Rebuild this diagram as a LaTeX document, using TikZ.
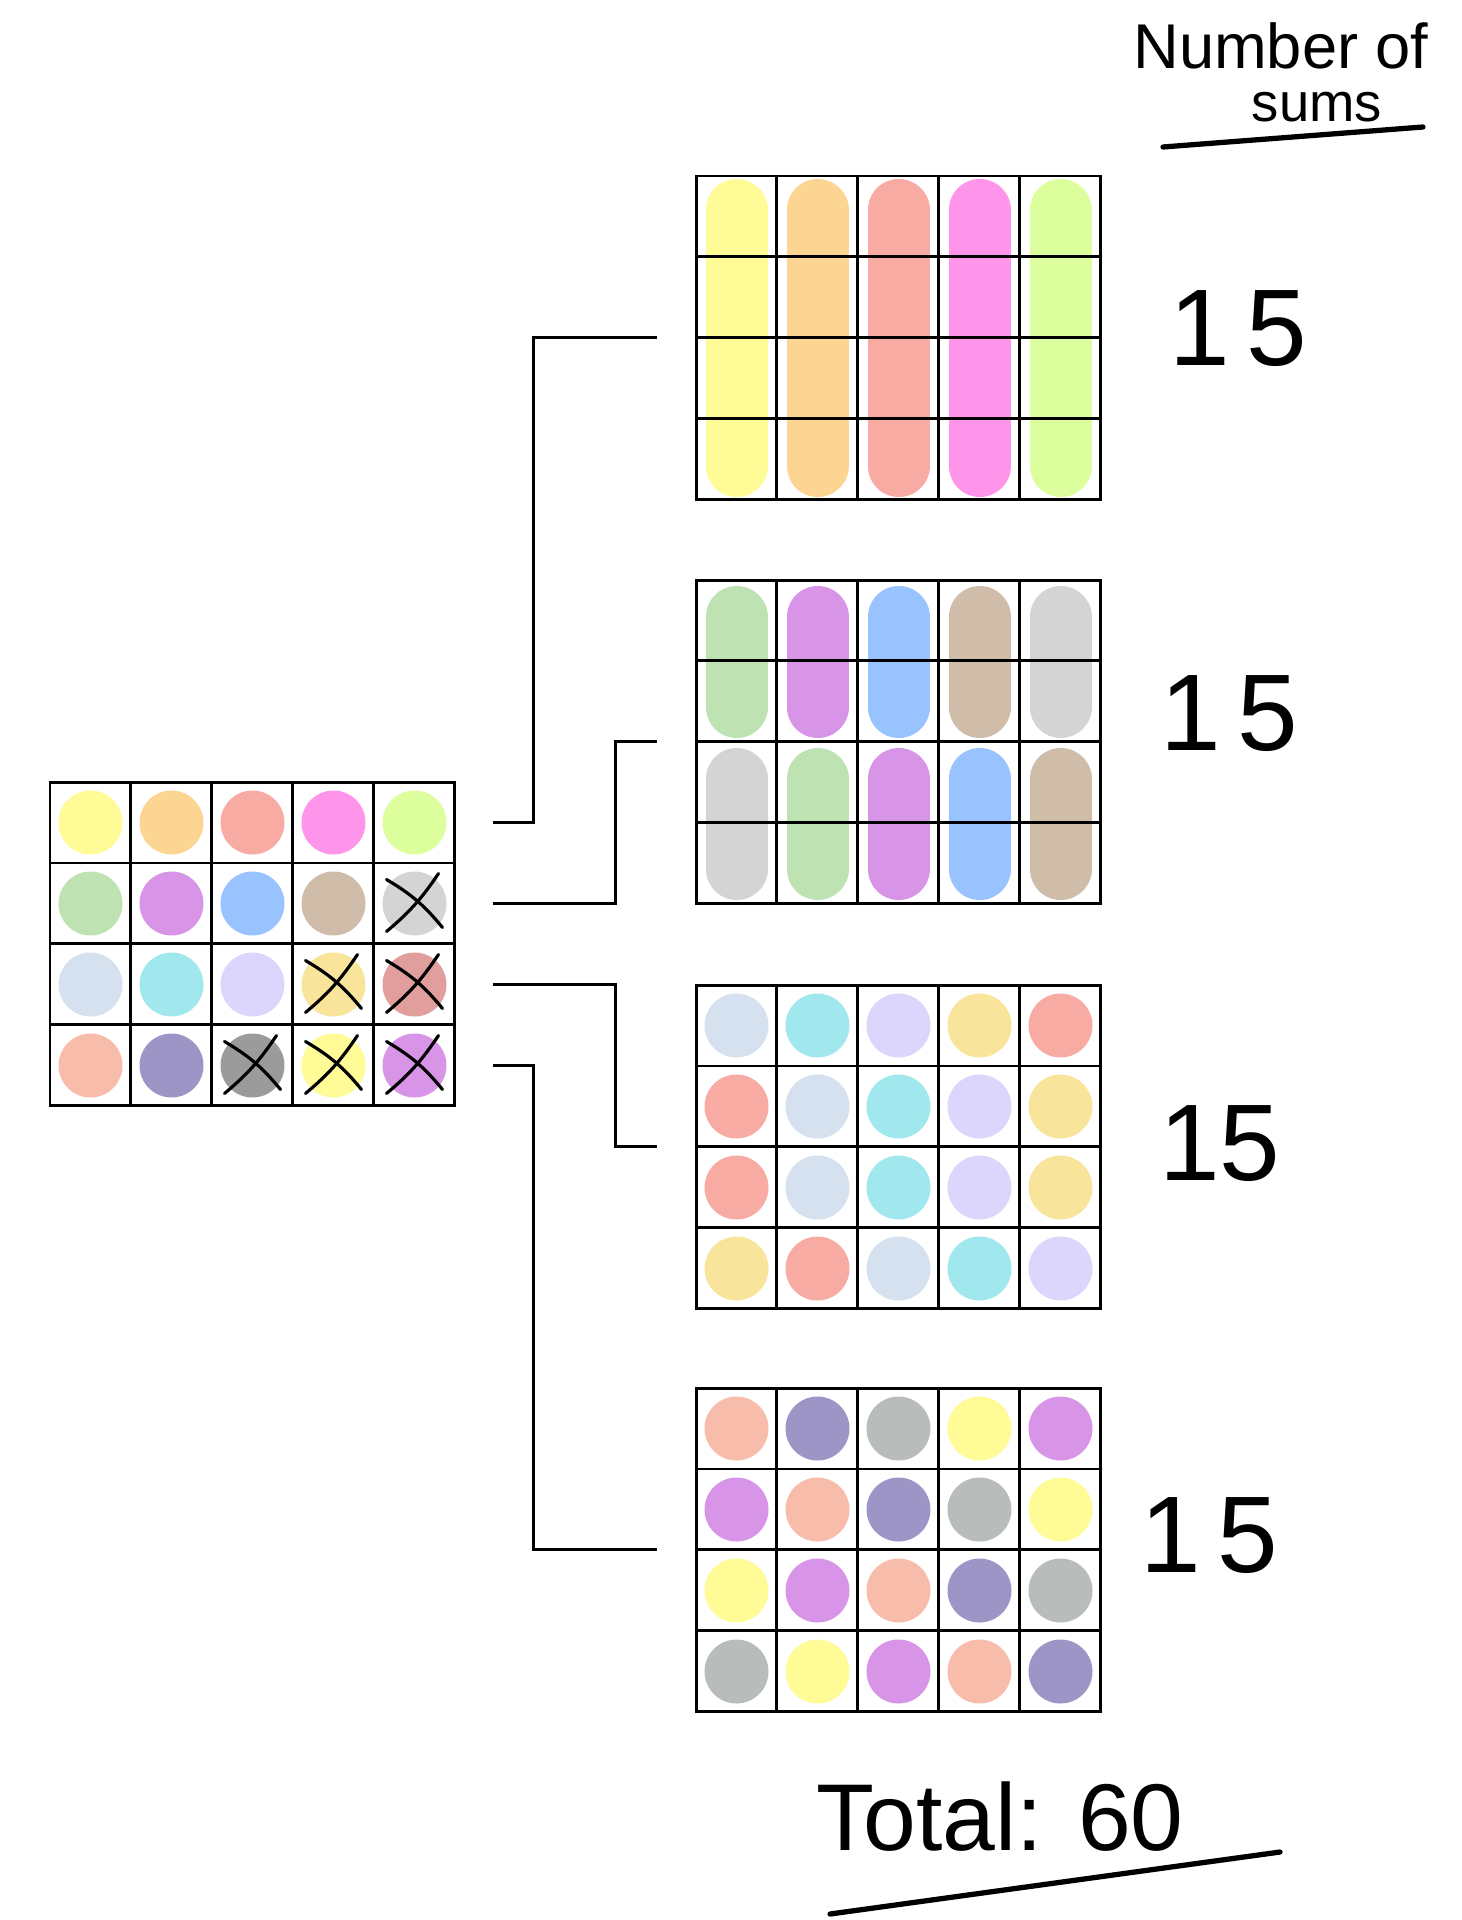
\documentclass[tikz,border=0pt]{standalone}
\usepackage{fontspec}
\setmainfont{Liberation Sans}
\usetikzlibrary{calc,positioning}

\definecolor{dotYellow}{HTML}{FFFB96}
\definecolor{dotOrange}{HTML}{FDD593}
\definecolor{dotSalmon}{HTML}{F7ABA3}
\definecolor{dotPink}{HTML}{FF95EA}
\definecolor{dotLime}{HTML}{DCFE9C}
\definecolor{dotGreen}{HTML}{BFE2B2}
\definecolor{dotPurple}{HTML}{D894E6}
\definecolor{dotBlue}{HTML}{98C3FE}
\definecolor{dotTan}{HTML}{D0BDA9}
\definecolor{dotGray}{HTML}{D4D4D4}
\definecolor{dotIce}{HTML}{D5E1EE}
\definecolor{dotCyan}{HTML}{A0E8EE}
\definecolor{dotLilac}{HTML}{DCD5FC}
\definecolor{dotSand}{HTML}{F9E49C}
\definecolor{dotRose}{HTML}{E09E9C}
\definecolor{dotPeach}{HTML}{F8BCAA}
\definecolor{dotSlate}{HTML}{9E95C7}
\definecolor{dotDark}{HTML}{9B9B9B}
\definecolor{dotStone}{HTML}{B8BCBB}

\tikzset{
  board/.style={draw, line width=1.7pt, inner sep=0pt, outer sep=0pt,
    minimum width=8.1cm, minimum height=6.48cm, anchor=north west},
  gridline/.style={line width=1.7pt},
  wire/.style={line width=1.7pt},
  pen/.style={line width=1.8pt, line cap=round},
  streak/.style={line width=1.24cm, line cap=round},
  tally/.style={font=\fontsize{62}{62}\selectfont},
}

% 5x4 board, top left corner at (#2,#3)
\newcommand{\board}[3]{%
  \node[board] (#1) at (#2,#3) {};
  \foreach \i in {1,...,4}
    \draw[gridline] ($(#1.north west)!\i/5!(#1.north east)$) -- ($(#1.south west)!\i/5!(#1.south east)$);
  \foreach \j in {1,2,3}
    \draw[gridline] ($(#1.north west)!\j/4!(#1.south west)$) -- ($(#1.north east)!\j/4!(#1.south east)$);
}
% one blob per cell, rows given as colour lists
\newcommand{\dotboard}[3]{%
  \foreach \r/\row in {#3}
    \foreach \col [count=\c] in \row
      \fill[\col] ({#1+81*(\c-0.5)},{#2+81*(\r-0.5)}) circle (0.64cm);
}
\newcommand{\crossout}[2]{%
  \draw[pen] ({#1-28},{#2-24}) to[bend left=10] ({#1+28},{#2+24});
  \draw[pen] ({#1-28},{#2+28}) to[bend right=8] ({#1+24},{#2-30});
}

\begin{document}
\begin{tikzpicture}[x=0.02cm,y=-0.02cm]
  \useasboundingbox (0,0) rectangle (1462,1920);

  % blobs
  \dotboard{50}{782}{1/{dotYellow,dotOrange,dotSalmon,dotPink,dotLime},
    2/{dotGreen,dotPurple,dotBlue,dotTan,dotGray},
    3/{dotIce,dotCyan,dotLilac,dotSand,dotRose},
    4/{dotPeach,dotSlate,dotDark,dotYellow,dotPurple}}
  \foreach \col [count=\c] in {dotYellow,dotOrange,dotSalmon,dotPink,dotLime}
    \draw[streak,\col] ({696+81*(\c-0.5)},210) -- ++(0,256);
  \foreach \col [count=\c] in {dotGreen,dotPurple,dotBlue,dotTan,dotGray}
    \draw[streak,\col] ({696+81*(\c-0.5)},617) -- ++(0,90);
  \foreach \col [count=\c] in {dotGray,dotGreen,dotPurple,dotBlue,dotTan}
    \draw[streak,\col] ({696+81*(\c-0.5)},779) -- ++(0,90);
  \dotboard{696}{985}{1/{dotIce,dotCyan,dotLilac,dotSand,dotSalmon},
    2/{dotSalmon,dotIce,dotCyan,dotLilac,dotSand},
    3/{dotSalmon,dotIce,dotCyan,dotLilac,dotSand},
    4/{dotSand,dotSalmon,dotIce,dotCyan,dotLilac}}
  \dotboard{696}{1388}{1/{dotPeach,dotSlate,dotStone,dotYellow,dotPurple},
    2/{dotPurple,dotPeach,dotSlate,dotStone,dotYellow},
    3/{dotYellow,dotPurple,dotPeach,dotSlate,dotStone},
    4/{dotStone,dotYellow,dotPurple,dotPeach,dotSlate}}

  % boards
  \board{B0}{50}{782}
  \board{B1}{696}{176}
  \board{B2}{696}{580}
  \board{B3}{696}{985}
  \board{B4}{696}{1388}
  \foreach \r/\c in {2/5,3/4,3/5,4/3,4/4,4/5}
    {\crossout{50+81*(\c-0.5)}{782+81*(\r-0.5)}}

  % connectors
  \coordinate (s1) at ($(B0.north east)!1/8!(B0.south east)+(38,0)$);
  \coordinate (s2) at ($(B0.north east)!3/8!(B0.south east)+(38,0)$);
  \coordinate (s3) at ($(B0.north east)!5/8!(B0.south east)+(38,0)$);
  \coordinate (s4) at ($(B0.north east)!7/8!(B0.south east)+(38,0)$);
  \draw[wire] (s1) -- ++(41,0) |- ($(B1.west)+(-39,0)$);
  \draw[wire] (s2) -- ++(123,0) |- ($(B2.west)+(-39,0)$);
  \draw[wire] (s3) -- ++(123,0) |- ($(B3.west)+(-39,0)$);
  \draw[wire] (s4) -- ++(41,0) |- ($(B4.west)+(-39,0)$);

  % counts
  \node[anchor=base, font=\fontsize{36}{36}\selectfont] (hdr) at (1281,68) {Number of};
  \node[anchor=base, font=\fontsize{31}{31}\selectfont] (sums) at (1317,121) {sums};
  \draw[pen, line width=3pt] (1163,147) -- (1423,127);
  \node[tally] (n1) at (1238,329) {1\hspace{0.15em}5};
  \node[tally] (n2) at (1229,714) {1\hspace{0.15em}5};
  \node[tally] (n3) at (1220,1144) {15};
  \node[tally] (n4) at (1209,1536) {1\hspace{0.15em}5};
  \node[anchor=base, font=\fontsize{54}{54}\selectfont] (total) at (1000,1850) {Total: 60};
  \draw[pen, line width=3pt] (830,1914) -- (1280,1852);
\end{tikzpicture}
\end{document}
